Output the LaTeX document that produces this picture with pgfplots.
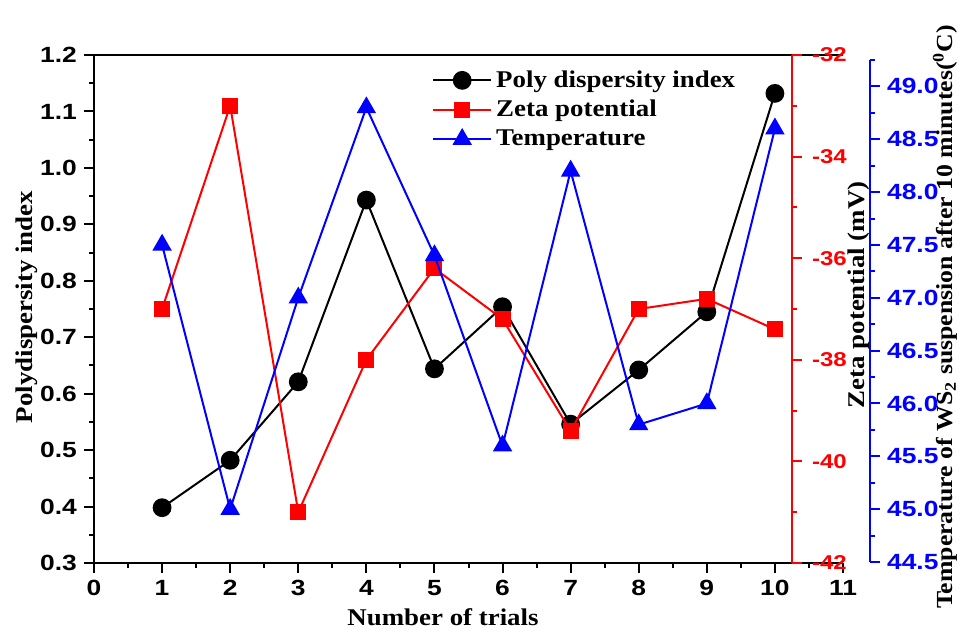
\documentclass[border=0pt]{standalone}
\usepackage{fontspec}
\usepackage{pgfplots}
\pgfplotsset{compat=1.18}
\newfontfamily\labfont[FakeStretch=1.12]{Liberation Serif}
\newfontfamily\tickfont[FakeStretch=1.2]{Liberation Sans}
\newcommand{\labf}{\labfont\bfseries\fontsize{12}{14}\selectfont}
\newcommand{\tickf}{\tickfont\bfseries\fontsize{11}{13}\selectfont}

\pgfplotstableread{
x   pdi
1   0.398
2   0.482
3   0.621
4   0.943
5   0.644
6   0.754
7   0.546
8   0.642
9   0.745
10  1.132
}\pditab
\pgfplotstableread{
x   zeta
1   -37.0
2   -33.0
3   -41.0
4   -38.0
5   -36.2
6   -37.2
7   -39.4
8   -37.0
9   -36.8
10  -37.4
}\zetatab
\pgfplotstableread{
x   temp
1   47.5
2   45.0
3   47.0
4   48.8
5   47.4
6   45.6
7   48.2
8   45.8
9   46.0
10  48.6
}\temptab

\pgfplotsset{
  trialaxis/.style={
    scale only axis, height=254pt, xmin=0, clip=false,
    tick align=outside, major tick length=5pt, minor tick length=2.5pt,
    tick style={line width=1pt},
    tick label style={font=\tickf},
    /pgf/number format/assume math mode=true,
    every axis plot/.append style={line width=1pt},
  },
}

\begin{document}
\begin{tikzpicture}
% PDI: linke Achse, Rahmen oben und unten, rechts offen
\begin{axis}[trialaxis, width=374.5pt, xmax=11, ymin=0.3, ymax=1.2,
    axis x line*=box, axis y line*=left,
    axis line style={-, line width=1.1pt},
    xtick={0,1,...,11}, minor x tick num=1, xtick pos=left,
    ytick={0.3,0.4,0.5,0.6,0.7,0.8,0.9,1.0,1.1,1.2}, minor y tick num=1,
    tick style={black},
    yticklabel style={/pgf/number format/.cd, fixed, fixed zerofill, precision=1},
    every axis x label/.style={at={(axis description cs:0.466,-0.106)}, anchor=center, font=\labf},
    every axis y label/.style={at={(axis description cs:-0.0894,0.504)}, rotate=90, anchor=center, font=\labf},
    xlabel={Number of trials}, ylabel={Polydispersity index},
    legend style={at={(axis description cs:0.451,0.986)}, anchor=north west,
      draw=none, fill=none, font=\labf, row sep=1pt, inner xsep=0pt},
    legend cell align=left,
    legend image code/.code={\draw[mark repeat=2, mark phase=2]
      plot coordinates {(0pt,0pt) (14.5pt,0pt) (29pt,0pt)};}]
\addplot[black, mark=*, mark size=4.2pt] table[x=x, y=pdi] {\pditab};
\addlegendentry{Poly dispersity index}
\addlegendimage{red, line width=1pt, mark=square*, mark size=3.5pt}
\addlegendentry{Zeta potential}
\addlegendimage{blue, line width=1pt, mark=triangle*, mark size=4.6pt}
\addlegendentry{Temperature}
\end{axis}
% Zeta-Potential: rote Achse etwas links vom Rahmenende
\begin{axis}[trialaxis, width=349pt, xmax=10.251, ymin=-42, ymax=-32,
    hide x axis, axis y line*=right,
    y axis line style={-, red, line width=1.1pt},
    ytick={-42,-40,-38,-36,-34,-32}, minor ytick={-41,-39,-37,-35,-33},
    ytick style={red},
    yticklabel style={red, xshift=1.5pt, font=\tickfont\bfseries\fontsize{10}{12}\selectfont},
    every axis y label/.style={at={(axis description cs:1.096,0.528)}, rotate=90, anchor=center, font=\labf},
    ylabel={Zeta potential (mV)}]
\addplot[red, mark=square*, mark size=3.5pt] table[x=x, y=zeta] {\zetatab};
\end{axis}
% Temperatur: blaue Achse ganz rechts
\begin{axis}[trialaxis, width=388pt, height=251pt, at={(0,0.5pt)}, xmax=11.3965,
    ymin=44.5, ymax=49.25,
    hide x axis, axis y line*=right,
    y axis line style={-, blue, line width=1.1pt},
    ytick={44.5,45.0,45.5,46.0,46.5,47.0,47.5,48.0,48.5,49.0},
    minor ytick={44.75,45.25,45.75,46.25,46.75,47.25,47.75,48.25,48.75,49.25},
    ytick style={blue},
    yticklabel style={blue, /pgf/number format/.cd, fixed, fixed zerofill, precision=1},
    every axis y label/.style={at={(axis description cs:1.0966,0.488)}, rotate=90, anchor=center,
      font=\labfont\bfseries\fontsize{11.5}{13}\selectfont},
    ylabel={Temperature of WS\textsubscript{2} suspension after 10 minutes(\textsuperscript{0}C)}]
\addplot[blue, mark=triangle*, mark size=4.6pt] table[x=x, y=temp] {\temptab};
\end{axis}
\pgfresetboundingbox
\path (-47pt,-34.5pt) rectangle (435.5pt,281.5pt);
\end{tikzpicture}
\end{document}
